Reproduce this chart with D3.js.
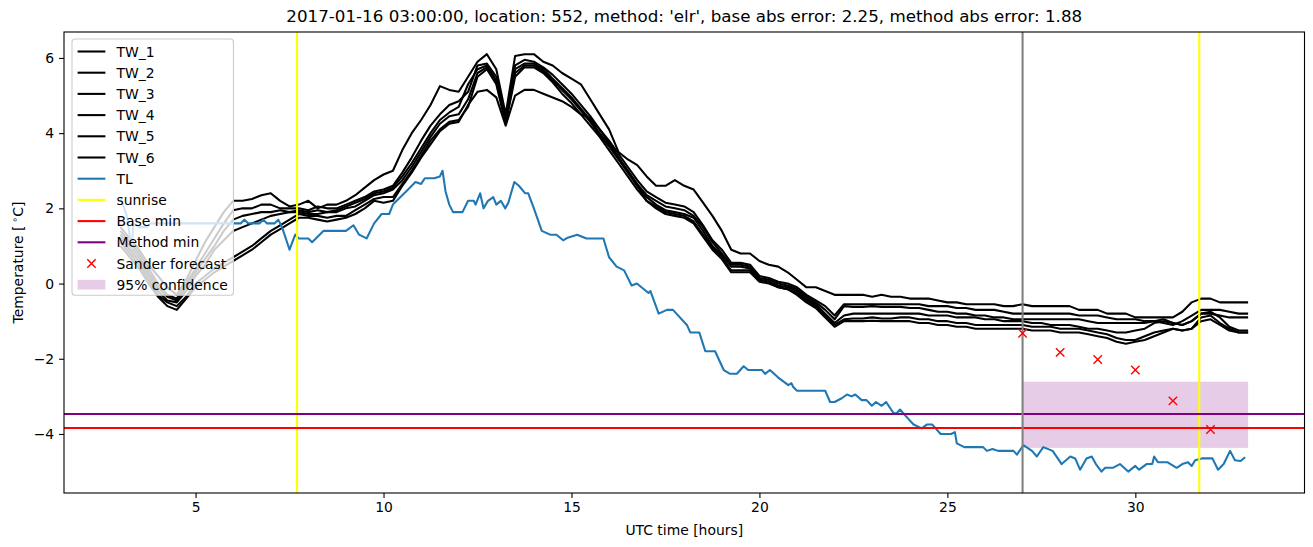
<!DOCTYPE html>
<html><head><meta charset="utf-8">
<script src="https://cdn.jsdelivr.net/npm/d3@7"></script>
<style>body{margin:0;background:#fff;} svg{display:block;font-family:"DejaVu Sans",sans-serif;}</style>
</head><body><svg id="chart" width="1313" height="547"></svg>
<script>
const titleText = "2017-01-16 03:00:00, location: 552, method: 'elr', base abs error: 2.25, method abs error: 1.88";
const xLabel = "UTC time [hours]";
const xTicks = [5, 10, 15, 20, 25, 30];
const yTicks = [-4, -2, 0, 2, 4, 6];

// sample times of the TW series (every 15 min, 3h .. 33h)
const hours = d3.range(121).map(i => 3 + i * 0.25);

const tw1 = [1.5,1.2,0.9,0.5, 0.2,-0.1,-0.3,0.1, 0.6,1.1,1.5,1.9, 2.2,2.2,2.25,2.35, 2.4,2.2,2.05,2.1,
  2.2,2.0,2.1,2.1, 2.2,2.35,2.55,2.75, 2.9,3.0,3.55,4.0, 4.35,4.75,5.25,5.15, 5.1,5.5,5.9,6.1,
  5.7,4.5,6.05,6.1, 6.1,5.9,5.8,5.6, 5.45,5.3,4.9,4.5, 4.1,3.5,3.3,3.15, 2.85,2.6,2.6,2.75,
  2.6,2.5,2.15,1.8, 1.4,0.9,0.8,0.8, 0.6,0.5,0.45,0.3, 0.1,-0.1,-0.1,-0.2, -0.3,-0.3,-0.3,-0.3,
  -0.35,-0.3,-0.35,-0.35, -0.4,-0.4,-0.4,-0.45, -0.5,-0.5,-0.55,-0.55, -0.55,-0.55,-0.6,-0.6,
  -0.55,-0.6,-0.6,-0.6, -0.6,-0.6,-0.7,-0.7, -0.7,-0.8,-0.8,-0.8, -0.9,-0.9,-0.9,-0.9,
  -0.9,-0.75,-0.5,-0.4, -0.4,-0.5,-0.5,-0.5, -0.5];
const tw2 = [1.4,1.1,0.8,0.4, 0.0,-0.3,-0.4,0.0, 0.4,0.8,1.2,1.6, 1.95,2.0,2.0,2.1, 2.1,2.0,2.0,2.0,
  1.95,2.05,2.0,2.0, 2.1,2.2,2.3,2.45, 2.5,2.6,2.95,3.35, 3.8,4.2,4.5,4.75, 4.85,5.1,5.8,5.85,
  5.5,4.4,5.8,5.95, 5.9,5.75,5.55,5.3, 5.05,4.75,4.45,4.1, 3.8,3.45,3.1,2.75, 2.45,2.3,2.15,2.1,
  2.05,1.9,1.55,1.15, 0.9,0.55,0.55,0.5, 0.2,0.15,0.05,0.0, -0.1,-0.3,-0.45,-0.6, -0.85,-0.55,-0.55,-0.55,
  -0.55,-0.55,-0.55,-0.55, -0.55,-0.55,-0.6,-0.6, -0.6,-0.65,-0.65,-0.7, -0.7,-0.7,-0.75,-0.8,
  -0.8,-0.8,-0.8,-0.8, -0.8,-0.8,-0.85,-0.85, -0.85,-0.9,-0.95,-0.95, -0.95,-1.0,-1.0,-1.05,
  -1.1,-1.0,-0.85,-0.7, -0.7,-0.7,-0.75,-0.8, -0.8];
const tw3 = [1.3,1.0,0.7,0.3, -0.1,-0.35,-0.45,-0.1, 0.3,0.65,1.0,1.4, 1.7,1.8,1.85,1.9, 1.9,1.95,1.9,1.95,
  1.9,1.95,1.9,1.95, 2.05,2.15,2.25,2.4, 2.45,2.55,2.85,3.2, 3.6,4.0,4.35,4.55, 4.7,5.3,5.7,5.8,
  5.4,4.35,5.7,5.85, 5.85,5.7,5.45,5.2, 4.95,4.65,4.35,4.0, 3.7,3.35,3.0,2.65, 2.35,2.2,2.05,2.0,
  1.95,1.8,1.5,1.1, 0.8,0.5,0.5,0.45, 0.15,0.1,0.0,-0.05, -0.15,-0.35,-0.5,-0.7, -0.95,-0.6,-0.62,-0.62,
  -0.6,-0.62,-0.62,-0.62, -0.65,-0.65,-0.7,-0.75, -0.75,-0.8,-0.8,-0.85, -0.85,-0.9,-0.9,-0.95,
  -0.95,-0.95,-0.95,-0.95, -0.95,-0.95,-0.95,-1.0, -1.05,-1.05,-1.05,-1.05, -1.05,-1.05,-1.0,-0.95,
  -1.05,-1.1,-1.0,-0.8, -0.8,-0.85,-0.9,-0.9, -0.9];
const tw4 = [1.2,0.9,0.6,0.2, -0.2,-0.45,-0.5,-0.2, 0.2,0.5,0.9,1.15, 1.4,1.5,1.6,1.7, 1.8,1.85,1.9,1.9,
  1.85,1.85,1.9,1.9, 2.0,2.05,2.2,2.35, 2.4,2.5,2.75,3.1, 3.5,3.9,4.25,4.45, 4.5,4.9,5.6,5.75,
  5.35,4.3,5.6,5.8, 5.8,5.65,5.4,5.15, 4.9,4.6,4.3,3.95, 3.65,3.3,2.95,2.6, 2.3,2.1,1.95,1.9,
  1.85,1.75,1.4,1.0, 0.75,0.45,0.45,0.4, 0.1,0.05,-0.05,-0.1, -0.2,-0.4,-0.55,-0.8, -1.05,-0.85,-0.8,-0.8,
  -0.8,-0.8,-0.8,-0.8, -0.8,-0.8,-0.85,-0.85, -0.85,-0.9,-0.9,-0.9, -0.95,-0.95,-1.0,-1.0,
  -1.0,-1.05,-1.05,-1.1, -1.1,-1.1,-1.15,-1.2, -1.2,-1.25,-1.3,-1.3, -1.25,-1.2,-1.05,-1.0,
  -1.05,-1.1,-1.0,-0.8, -0.75,-0.9,-1.15,-1.25, -1.25];
const tw5 = [1.1,0.8,0.5,0.1, -0.3,-0.5,-0.6,-0.35, 0.0,0.2,0.4,0.55, 0.7,0.85,1.0,1.2, 1.4,1.55,1.7,1.85,
  1.8,1.8,1.75,1.8, 1.8,1.95,2.1,2.25, 2.3,2.3,2.65,3.0, 3.4,3.8,4.1,4.3, 4.35,4.7,5.5,5.7,
  5.3,4.25,5.5,5.75, 5.75,5.6,5.35,5.05, 4.8,4.5,4.2,3.9, 3.55,3.2,2.85,2.5, 2.2,2.05,1.9,1.85,
  1.8,1.65,1.3,0.95, 0.7,0.35,0.35,0.35, 0.1,0.05,-0.1,-0.15, -0.25,-0.45,-0.6,-0.85, -1.1,-0.95,-0.93,-0.93,
  -0.9,-0.93,-0.93,-0.9, -0.9,-0.95,-0.95,-1.0, -1.0,-1.05,-1.05,-1.1, -1.1,-1.1,-1.1,-1.1,
  -1.1,-1.15,-1.15,-1.15, -1.2,-1.2,-1.2,-1.25, -1.3,-1.35,-1.45,-1.5, -1.5,-1.4,-1.3,-1.25,
  -1.2,-1.25,-1.2,-1.0, -0.95,-1.1,-1.25,-1.3, -1.3];
const tw6 = [1.0,0.7,0.4,0.0, -0.35,-0.6,-0.7,-0.4, -0.1,0.1,0.3,0.45, 0.6,0.75,0.9,1.1, 1.3,1.45,1.6,1.75,
  1.75,1.7,1.65,1.7, 1.75,1.85,2.0,2.2, 2.15,2.2,2.6,2.95, 3.35,3.7,4.05,4.25, 4.3,4.75,5.1,5.15,
  4.95,4.2,5.0,5.15, 5.15,5.05,4.95,4.85, 4.7,4.5,4.4,4.1, 3.75,3.35,3.0,2.6, 2.2,2.0,1.85,1.8,
  1.75,1.6,1.25,0.9, 0.65,0.3,0.3,0.3, 0.05,0.0,-0.1,-0.15, -0.3,-0.5,-0.65,-0.9, -1.15,-1.0,-1.0,-1.0,
  -0.99,-1.0,-1.0,-1.0, -1.0,-1.05,-1.05,-1.1, -1.1,-1.15,-1.15,-1.2, -1.2,-1.2,-1.2,-1.2,
  -1.2,-1.25,-1.25,-1.25, -1.3,-1.3,-1.3,-1.35, -1.4,-1.45,-1.55,-1.6, -1.55,-1.5,-1.4,-1.3,
  -1.2,-1.25,-1.2,-0.9, -0.85,-1.05,-1.2,-1.3, -1.3];

const tlHours = [3.0,3.17,3.3,3.35,3.5,3.7,3.8,6.2,6.3,6.4,6.7,6.8,6.9,7.1,7.2,7.3,7.5,7.65,7.75,8.0,8.1,8.2,8.4,9.0,
  9.2,9.35,9.55,9.75,9.95,10.15,10.25,10.35,10.6,10.85,11.0,11.1,11.35,11.5,11.57,11.65,11.75,11.85,12.1,12.25,12.4,12.45,
  12.57,12.66,12.78,12.92,13.0,13.12,13.24,13.32,13.48,13.6,13.77,13.85,14.0,14.21,14.43,14.6,14.78,14.9,15.15,15.4,15.85,
  16.0,16.2,16.4,16.6,16.74,17.05,17.1,17.32,17.54,17.7,18.07,18.16,18.4,18.56,18.82,19.05,19.22,19.4,19.58,19.7,20.07,
  20.15,20.28,20.5,20.77,20.85,20.9,21.0,21.75,21.88,22.0,22.19,22.33,22.45,22.55,22.72,22.85,22.99,23.1,23.25,23.37,
  23.57,23.65,23.74,23.87,24.1,24.32,24.45,24.6,24.82,25.1,25.2,25.25,25.45,25.95,26.05,26.2,26.35,26.76,26.85,27.02,
  27.25,27.38,27.55,27.8,28.04,28.27,28.4,28.53,28.7,28.84,28.95,29.1,29.2,29.4,29.59,29.81,30.0,30.1,30.3,30.45,30.5,
  30.6,30.85,31.1,31.25,31.4,31.5,31.59,31.77,32.05,32.2,32.35,32.52,32.65,32.8,32.92];
const tlTemps = [2.3,1.8,0.95,1.6,1.5,1.5,1.6,1.6,1.7,1.6,1.6,1.7,1.6,1.6,1.7,1.5,0.9,1.3,1.2,1.2,1.1,1.2,1.4,1.4,
  1.55,1.3,1.2,1.6,1.85,1.85,2.1,2.2,2.45,2.7,2.65,2.8,2.8,2.85,3.0,2.45,2.1,1.9,1.9,2.2,2.2,2.1,
  2.4,2.0,2.2,2.3,2.1,2.2,2.0,2.15,2.7,2.6,2.4,2.4,2.0,1.4,1.3,1.3,1.15,1.22,1.3,1.2,1.2,
  0.7,0.45,0.35,-0.05,0.0,-0.25,-0.2,-0.8,-0.7,-0.7,-1.1,-1.3,-1.3,-1.8,-1.8,-2.3,-2.4,-2.4,-2.2,-2.3,-2.3,
  -2.4,-2.3,-2.5,-2.7,-2.65,-2.75,-2.85,-2.85,-3.15,-3.15,-3.05,-2.95,-3.0,-2.95,-3.1,-3.1,-3.25,-3.15,-3.25,-3.15,
  -3.45,-3.45,-3.35,-3.5,-3.75,-3.85,-3.75,-3.75,-4.0,-4.0,-3.95,-4.25,-4.35,-4.35,-4.45,-4.4,-4.45,-4.45,-4.55,-4.3,
  -4.45,-4.6,-4.35,-4.45,-4.8,-4.6,-4.65,-4.95,-4.65,-4.6,-4.8,-5.0,-4.9,-4.9,-4.8,-5.0,-4.85,-4.95,-4.8,-4.8,-4.6,
  -4.75,-4.75,-4.9,-4.8,-4.75,-4.85,-4.7,-4.65,-4.65,-4.95,-4.8,-4.45,-4.7,-4.72,-4.62];

const sunriseHours = [7.7, 31.7];
const forecastStartHour = 27;
const baseMin = -3.84;
const methodMin = -3.47;
const sanderHours = [27, 28, 29, 30, 31, 32];
const sanderTemps = [-1.32, -1.83, -2.02, -2.30, -3.12, -3.88];
const confHours = [27, 33];
const confLow = -4.37, confHigh = -2.61;

const twSeries = [tw1, tw2, tw3, tw4, tw5, tw6];
const twNames = ["TW_1", "TW_2", "TW_3", "TW_4", "TW_5", "TW_6"];

const W = 1313, H = 547;
const L = 64, R = 1304.5, T = 32, B = 493;
const svg = d3.select("#chart");
const x = d3.scaleLinear().domain([1.5, 34.5]).range([L, R]);
const y = d3.scaleLinear().domain([-5.57, 6.69]).range([B, T]);

svg.append("defs").append("clipPath").attr("id", "clip")
  .append("rect").attr("x", L).attr("y", T).attr("width", R - L).attr("height", B - T);
const plot = svg.append("g").attr("clip-path", "url(#clip)");

// confidence band
plot.append("rect")
  .attr("x", x(confHours[0])).attr("width", x(confHours[1]) - x(confHours[0]))
  .attr("y", y(confHigh)).attr("height", y(confLow) - y(confHigh))
  .attr("fill", "purple").attr("fill-opacity", 0.2);

const line = d3.line().x(d => x(d[0])).y(d => y(d[1]));
twSeries.forEach(s => {
  plot.append("path").datum(hours.map((h, i) => [h, s[i]]))
    .attr("d", line).attr("fill", "none").attr("stroke", "#000").attr("stroke-width", 2.08)
    .attr("stroke-linejoin", "round");
});
plot.append("path").datum(tlHours.map((h, i) => [h, tlTemps[i]]))
  .attr("d", line).attr("fill", "none").attr("stroke", "#1f77b4").attr("stroke-width", 2.08)
  .attr("stroke-linejoin", "round");

sunriseHours.forEach(h => {
  plot.append("line").attr("x1", x(h)).attr("x2", x(h)).attr("y1", T).attr("y2", B)
    .attr("stroke", "#ffff00").attr("stroke-width", 2.08);
});
plot.append("line").attr("x1", L).attr("x2", R).attr("y1", y(baseMin)).attr("y2", y(baseMin))
  .attr("stroke", "red").attr("stroke-width", 2.08);
plot.append("line").attr("x1", L).attr("x2", R).attr("y1", y(methodMin)).attr("y2", y(methodMin))
  .attr("stroke", "purple").attr("stroke-width", 2.08);
plot.append("line").attr("x1", x(forecastStartHour)).attr("x2", x(forecastStartHour)).attr("y1", T).attr("y2", B)
  .attr("stroke", "gray").attr("stroke-width", 2.08);

const ms = 4.2;
sanderHours.forEach((h, i) => {
  const cx = x(h), cy = y(sanderTemps[i]);
  plot.append("path").attr("d", `M${cx-ms},${cy-ms}L${cx+ms},${cy+ms}M${cx-ms},${cy+ms}L${cx+ms},${cy-ms}`)
    .attr("stroke", "red").attr("stroke-width", 1.4).attr("fill", "none");
});

// axes
const fmt = v => v < 0 ? "\u2212" + Math.abs(v) : String(v);
const xAxis = svg.append("g").attr("transform", `translate(0,${B})`)
  .call(d3.axisBottom(x).tickValues(xTicks).tickFormat(fmt).tickSize(4.9).tickPadding(4.2));
const yAxis = svg.append("g").attr("transform", `translate(${L},0)`)
  .call(d3.axisLeft(y).tickValues(yTicks).tickFormat(fmt).tickSize(4.9).tickPadding(4.9));
[xAxis, yAxis].forEach(a => {
  a.select(".domain").remove();
  a.selectAll("line").attr("stroke", "#000").attr("stroke-width", 1.1);
  a.selectAll("text").attr("font-family", "DejaVu Sans").attr("font-size", 13.9).attr("fill", "#000");
});

svg.append("rect").attr("x", L).attr("y", T).attr("width", R - L).attr("height", B - T)
  .attr("fill", "none").attr("stroke", "#000").attr("stroke-width", 1.1);

svg.append("text").attr("x", (L + R) / 2).attr("y", 22).attr("text-anchor", "middle")
  .attr("font-size", 16.7).attr("fill", "#000").text(titleText);
svg.append("text").attr("x", (L + R) / 2).attr("y", 535).attr("text-anchor", "middle")
  .attr("font-size", 13.9).attr("fill", "#000").text(xLabel);
const yl = svg.append("text").attr("transform", `translate(23,${(T + B) / 2}) rotate(-90)`)
  .attr("text-anchor", "middle").attr("font-size", 13.9).attr("fill", "#000");
yl.append("tspan").text("Temperature [\u2009");
yl.append("tspan").attr("font-size", 9.7).attr("dy", -5).text("\u2218");
yl.append("tspan").attr("dy", 5).text("C]");

// legend
const legendItems = [
  ...twNames.map(n => ({ label: n, type: "line", color: "#000" })),
  { label: "TL", type: "line", color: "#1f77b4" },
  { label: "sunrise", type: "line", color: "#ffff00" },
  { label: "Base min", type: "line", color: "red" },
  { label: "Method min", type: "line", color: "purple" },
  { label: "Sander forecast", type: "marker", color: "red" },
  { label: "95% confidence", type: "patch", color: "purple" }
];
const lg = svg.append("g");
const lx = 72, ly = 39, pitch = 21.2, first = 51.5;
const box = lg.append("rect").attr("x", lx).attr("y", ly).attr("rx", 3).attr("ry", 3)
  .attr("fill", "#fff").attr("fill-opacity", 0.8).attr("stroke", "#cccccc").attr("stroke-width", 1.1);
let maxW = 0;
legendItems.forEach((it, i) => {
  const cy = first + i * pitch;
  const h0 = lx + 5.6, h1 = h0 + 27.8;
  if (it.type === "line") {
    lg.append("line").attr("x1", h0).attr("x2", h1).attr("y1", cy).attr("y2", cy)
      .attr("stroke", it.color).attr("stroke-width", 2.08);
  } else if (it.type === "marker") {
    const cx = (h0 + h1) / 2;
    lg.append("path").attr("d", `M${cx-ms},${cy-ms}L${cx+ms},${cy+ms}M${cx-ms},${cy+ms}L${cx+ms},${cy-ms}`)
      .attr("stroke", it.color).attr("stroke-width", 1.4);
  } else {
    lg.append("rect").attr("x", h0).attr("y", cy - 4.9).attr("width", h1 - h0).attr("height", 9.7)
      .attr("fill", it.color).attr("fill-opacity", 0.2);
  }
  const t = lg.append("text").attr("x", h1 + 11.1).attr("y", cy).attr("dy", "0.36em")
    .attr("font-size", 13.9).attr("fill", "#000").text(it.label);
  maxW = Math.max(maxW, t.node().getComputedTextLength());
});
box.attr("width", 5.6 + 27.8 + 11.1 + maxW + 5.6)
  .attr("height", first + (legendItems.length - 1) * pitch + 10.6 - ly);
</script></body></html>
